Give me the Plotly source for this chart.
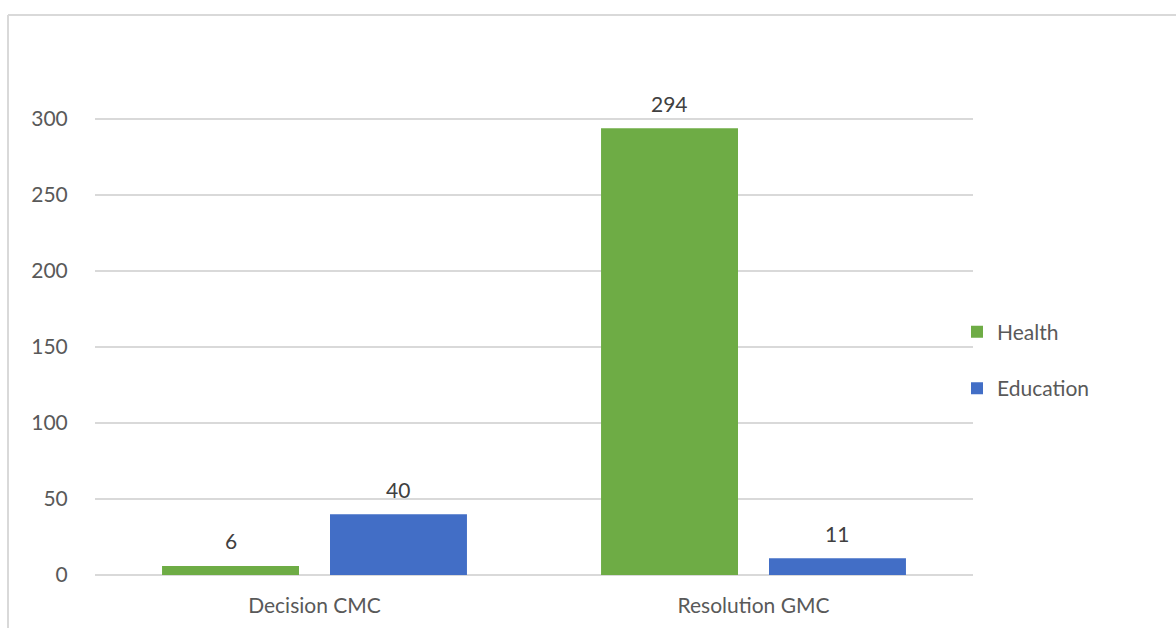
import plotly.graph_objects as go

categories = ["Decision CMC", "Resolution GMC"]
health = [6, 294]
education = [40, 11]
series_names = ["Health", "Education"]
y_ticks = [0, 50, 100, 150, 200, 250, 300]

FONT = "Lato"
GREY = "#595959"

W, H = 1176, 628
L, R, T, B = 95, 203, 118, 53
plot_w = W - L - R

bar_w = 0.312          # bar width in category units
center_off = 0.1913    # bar center offset from category center

fig = go.Figure()
colors = ["#6EAC45", "#426EC6"]
offsets = [-center_off - bar_w / 2, center_off - bar_w / 2]
for name, vals, col, off in zip(series_names, [health, education], colors, offsets):
    fig.add_trace(go.Bar(
        x=categories, y=vals, name=name, legendgroup=name,
        marker=dict(color=col, line=dict(width=0)),
        width=bar_w, offset=off,
    ))
    for i, v in enumerate(vals):
        fig.add_annotation(
            x=i + off + bar_w / 2, y=v, xref="x", yref="y",
            text=str(v), showarrow=False, yanchor="middle", yshift=25,
            font=dict(family=FONT, size=21, color="#404040"),
        )

# outer chart frame (top and left edges visible)
x_left = (8 - L) / plot_w
y_top = (H - B - 15) / (H - T - B)
fig.add_shape(type="line", xref="paper", yref="paper", x0=x_left, x1=1.3, y0=y_top, y1=y_top,
              line=dict(color="#d9d9d9", width=2))
fig.add_shape(type="line", xref="paper", yref="paper", x0=x_left, x1=x_left, y0=y_top, y1=-0.3,
              line=dict(color="#d9d9d9", width=2))

fig.update_layout(
    width=W, height=H,
    margin=dict(l=L, r=R, t=T, b=B, pad=0),
    paper_bgcolor="white", plot_bgcolor="white",
    barmode="group",
    font=dict(family=FONT, size=21, color=GREY),
    showlegend=True,
    legend=dict(x=(957 - L) / plot_w, xanchor="left", y=0.47, yanchor="middle",
                traceorder="grouped", tracegroupgap=26,
                font=dict(family=FONT, size=21, color=GREY),
                bgcolor="rgba(0,0,0,0)", borderwidth=0),
    xaxis=dict(type="category", range=[-0.5, 1.5], showgrid=False, zeroline=False,
               showline=False, ticks="outside", ticklen=12, tickcolor="rgba(0,0,0,0)",
               tickfont=dict(family=FONT, size=21, color=GREY)),
    yaxis=dict(range=[0, 300.7], tickvals=y_ticks, showgrid=True, gridcolor="#d9d9d9",
               gridwidth=1.5, zeroline=True, zerolinecolor="#d9d9d9", zerolinewidth=1.5,
               showline=False, ticks="outside", ticklen=22, tickcolor="rgba(0,0,0,0)",
               tickfont=dict(family=FONT, size=21, color=GREY)),
)

fig.write_html("out.html")
